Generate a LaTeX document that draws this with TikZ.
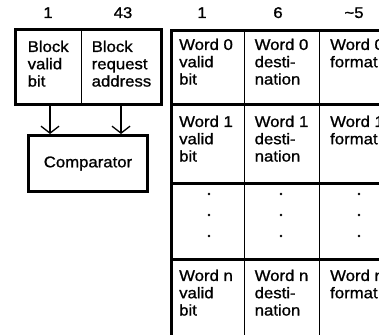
\documentclass[tikz,border=0pt]{standalone}
\usepackage{fontspec}
\setmainfont[FakeStretch=1.08,FakeBold=1]{Liberation Sans}
\usetikzlibrary{arrows.meta}
\begin{document}
\begin{tikzpicture}[x=1pt,y=-1pt,
  thickline/.style={line width=3pt},
  thinline/.style={line width=1pt},
  celltext/.style={anchor=north west, inner sep=0pt, align=left, font=\fontsize{15.5}{17.3}\selectfont},
  headtext/.style={anchor=base, inner sep=0pt, font=\fontsize{15.5}{17.3}\selectfont},
  arr/.style={line width=1.5pt, -{Straight Barb[length=7pt,width=18pt,line width=1.3pt]}},
  dotmark/.style={circle, fill=black, inner sep=0pt, minimum size=2.8pt}]
\useasboundingbox (0,0) rectangle (379,334);
\clip (0,0) rectangle (379,334);
% headers
\node[headtext] (h1) at (48,18) {1};
\node[headtext] (h43) at (123,18) {43};
\node[headtext] (r1) at (202,18) {1};
\node[headtext] (r6) at (278,18) {6};
\node[headtext] (r5) at (354,18) {\textasciitilde5};
% left box
\draw[thickline] (15.5,29.5) rectangle (161.5,104);
\draw[thinline] (81,29.5) -- (81,104);
\node[celltext] (bvalid) at (27.5,40.5) {Block\\valid\\bit};
\node[celltext] (baddr) at (91.5,40.5) {Block\\request\\address};
% comparator
\node[draw, line width=3pt, minimum width=119pt, minimum height=56pt, inner sep=0pt,
      font=\fontsize{15.5}{17.3}\selectfont] (comp) at (88,163.5) {Comparator};
\coordinate (aL) at (50,104);
\coordinate (aR) at (121,104);
\draw[arr] (aL) -- (aL |- comp.north);
\draw[arr] (aR) -- (aR |- comp.north);
% right table
\draw[thickline] (171.5,340) -- (171.5,30.5) -- (390,30.5);
\draw[thickline] (170,104.5) -- (390,104.5);
\draw[thickline] (170,183) -- (390,183);
\draw[thickline] (170,259.5) -- (390,259.5);
\draw[thinline] (244,30.5) -- (244,340);
\draw[thinline] (319,30.5) -- (319,340);
% row 0
\node[celltext] (w0v) at (179,38.5) {Word 0\\valid\\bit};
\node[celltext] (w0d) at (254.5,38.5) {Word 0\\desti-\\nation};
\node[celltext] (w0f) at (330,38.5) {Word 0\\format};
% row 1
\node[celltext] (w1v) at (179,115.5) {Word 1\\valid\\bit};
\node[celltext] (w1d) at (254.5,115.5) {Word 1\\desti-\\nation};
\node[celltext] (w1f) at (330,115.5) {Word 1\\format};
% dots
\foreach \x/\n in {209/a,281/b,359/c}{
  \node[dotmark] (d1\n) at (\x,194) {};
  \node[dotmark] (d2\n) at (\x,215) {};
  \node[dotmark] (d3\n) at (\x,236) {};
}
% row n
\node[celltext] (wnv) at (179,269.5) {Word n\\valid\\bit};
\node[celltext] (wnd) at (254.5,269.5) {Word n\\desti-\\nation};
\node[celltext] (wnf) at (330,269.5) {Word n\\format};
\end{tikzpicture}
\end{document}
